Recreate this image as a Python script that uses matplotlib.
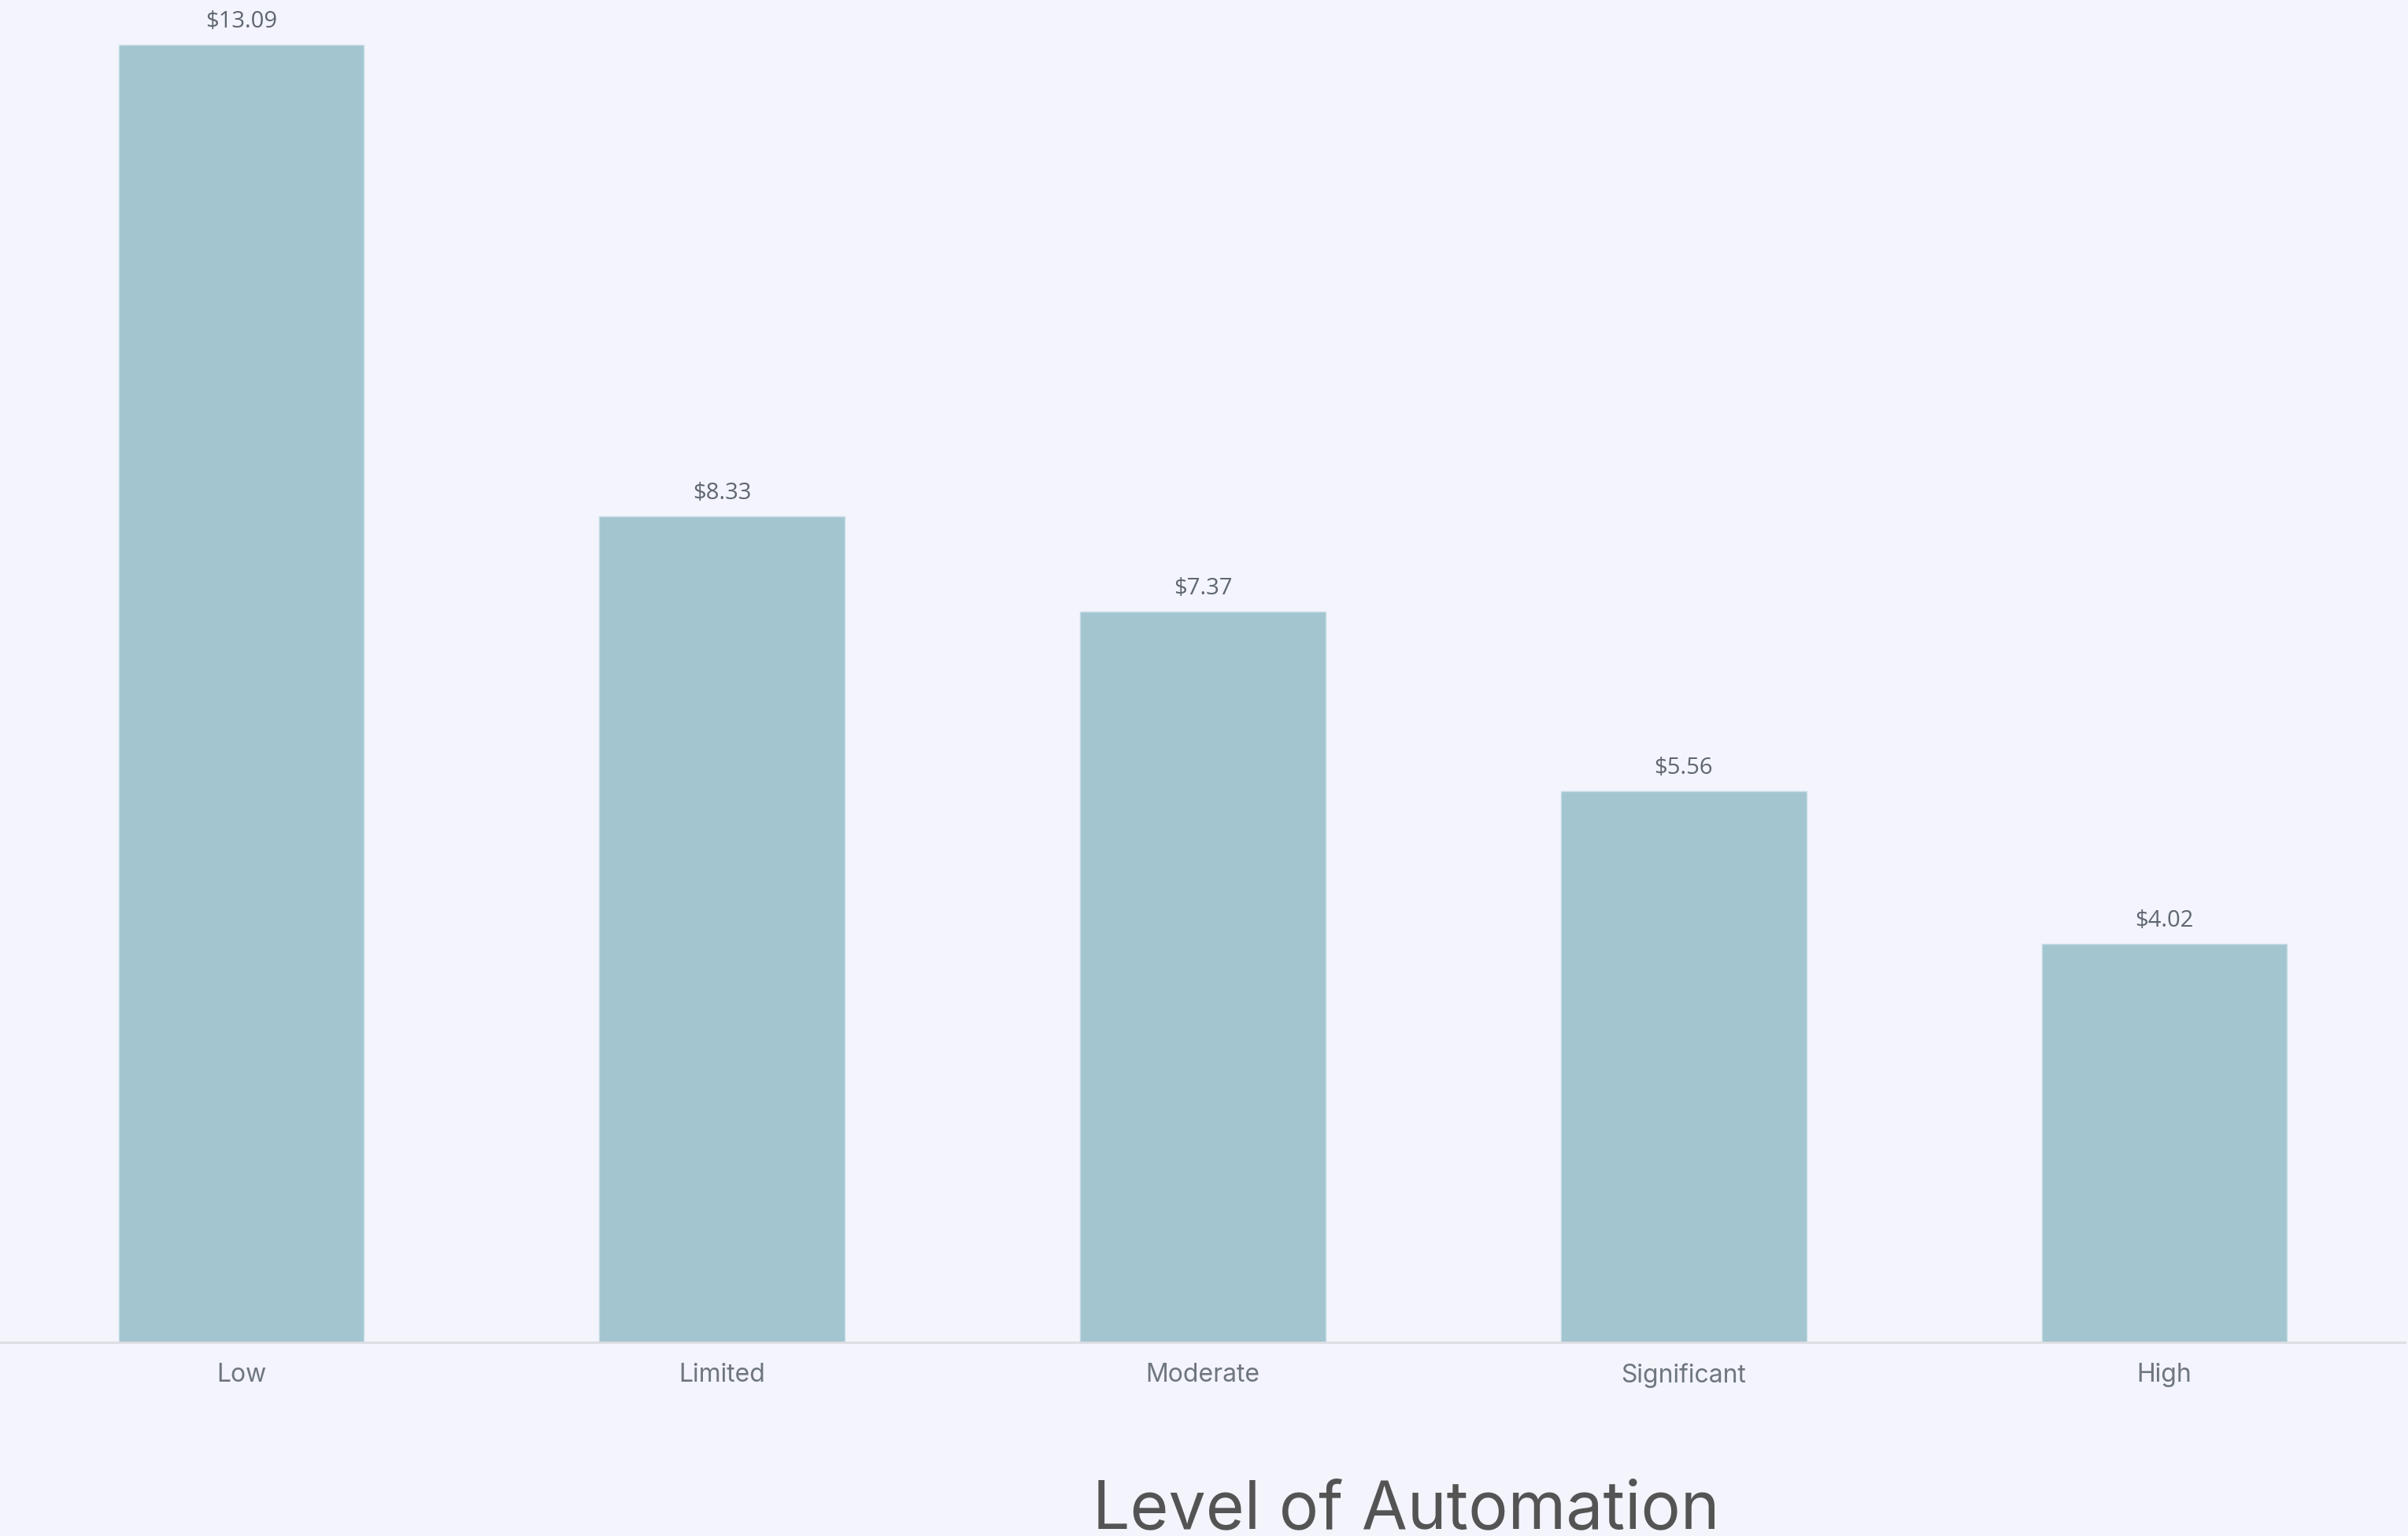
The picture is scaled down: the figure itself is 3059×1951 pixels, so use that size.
import matplotlib
matplotlib.use("Agg")
import matplotlib.pyplot as plt

categories = ["Low", "Limited", "Moderate", "Significant", "High"]
values = [13.09, 8.33, 7.37, 5.56, 4.02]
value_labels = ["$13.09", "$8.33", "$7.37", "$5.56", "$4.02"]
title = "Level of Automation"

bg = "#f3f4fc"
bar_color = "#a3c5d0"

fig = plt.figure(figsize=(30.59, 19.51), dpi=100, facecolor=bg)
ax = fig.add_axes([1 / 3059, 246 / 1951, 3054 / 3059, 1705 / 1951])
ax.set_facecolor(bg)

x = range(len(categories))
bars = ax.bar(x, values, width=0.51, color=bar_color, edgecolor="#c4dce3", linewidth=1)
ax.set_xlim(-0.5, 4.5)
ax.set_ylim(0, 13.54)

for rect, lab in zip(bars, value_labels):
    ax.annotate(lab, (rect.get_x() + rect.get_width() / 2, rect.get_height()),
                xytext=(0, 22), textcoords="offset pixels", ha="center", va="baseline",
                fontsize=21, color="#5f6670", family=["Open Sans", "DejaVu Sans"])

ax.set_xticks(list(x))
ax.set_xticklabels(categories, fontsize=23, color="#6f767e", family=["Inter", "DejaVu Sans"])
ax.tick_params(axis="x", length=0, pad=19)
ax.set_yticks([])
for s in ["top", "right", "left"]:
    ax.spines[s].set_visible(False)
ax.spines["bottom"].set_color("#dcdde3")
ax.spines["bottom"].set_linewidth(2)

fig.text(1388 / 3059, 10 / 1951, title, ha="left", va="baseline", fontsize=60.5,
         color="#545454", family=["Inter", "DejaVu Sans"])

fig.savefig("out.png", dpi=100, facecolor=bg)
